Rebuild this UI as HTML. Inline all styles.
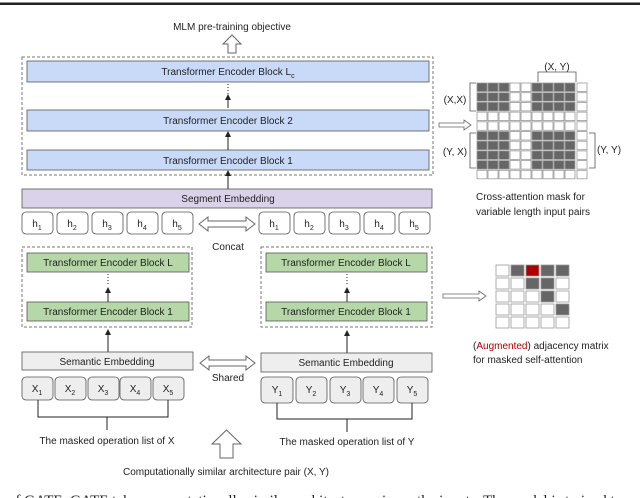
<!DOCTYPE html>
<html><head><meta charset="utf-8"><style>
html,body{margin:0;padding:0;background:#fff;width:640px;height:498px;overflow:hidden}
svg text{font-family:"Liberation Sans",sans-serif;fill:#222}
</style></head><body>
<svg width="640" height="498" viewBox="0 0 640 498" xmlns="http://www.w3.org/2000/svg">
<defs>
<marker id="ah" markerWidth="6" markerHeight="6" refX="3" refY="3" orient="auto"><path d="M0,0 L6,3 L0,6 z" fill="#222"/></marker>
<g id="rowD">
<rect x="477" y="0" width="10" height="8.5" fill="#666"/><rect x="488" y="0" width="10" height="8.5" fill="#666"/><rect x="499" y="0" width="10" height="8.5" fill="#666"/><rect x="510" y="0" width="10" height="8.5" fill="#fff"/><rect x="521" y="0" width="10" height="8.5" fill="#fff"/><rect x="532" y="0" width="10" height="8.5" fill="#666"/><rect x="543" y="0" width="10" height="8.5" fill="#666"/><rect x="554" y="0" width="10" height="8.5" fill="#666"/><rect x="565" y="0" width="10" height="8.5" fill="#666"/><rect x="577" y="0" width="10" height="8.5" fill="#fff"/>
</g>
<g id="rowW">
<rect x="477" y="0" width="10" height="8.5" fill="#fff"/><rect x="488" y="0" width="10" height="8.5" fill="#fff"/><rect x="499" y="0" width="10" height="8.5" fill="#fff"/><rect x="510" y="0" width="10" height="8.5" fill="#fff"/><rect x="521" y="0" width="10" height="8.5" fill="#fff"/><rect x="532" y="0" width="10" height="8.5" fill="#fff"/><rect x="543" y="0" width="10" height="8.5" fill="#fff"/><rect x="554" y="0" width="10" height="8.5" fill="#fff"/><rect x="565" y="0" width="10" height="8.5" fill="#fff"/><rect x="577" y="0" width="10" height="8.5" fill="#fff"/>
</g>
</defs>
<rect x="0" y="2.5" width="640" height="2.5" fill="#222"/>

<text x="232" y="30" font-size="10" text-anchor="middle">MLM pre-training objective</text>
<path d="M228,53 L228,44 L223,44 L232,35 L241,44 L236,44 L236,53 Z" fill="#fff" stroke="#666" stroke-width="1"/>

<rect x="22" y="57" width="411" height="118" fill="none" stroke="#777" stroke-dasharray="3,2"/>
<rect x="27" y="61" width="402" height="21" fill="#c9daf8" stroke="#555" stroke-width="0.8"/>
<text x="228" y="75" font-size="10" text-anchor="middle">Transformer Encoder Block L<tspan font-size="7" dy="3">c</tspan></text>
<line x1="228" y1="84" x2="228" y2="94" stroke="#222" stroke-dasharray="1,2"/>
<line x1="228" y1="108" x2="228" y2="97" stroke="#222" marker-end="url(#ah)"/>
<rect x="27" y="110" width="402" height="21" fill="#c9daf8" stroke="#555" stroke-width="0.8"/>
<text x="228" y="124" font-size="10" text-anchor="middle">Transformer Encoder Block 2</text>
<line x1="228" y1="150" x2="228" y2="134" stroke="#222" marker-end="url(#ah)"/>
<rect x="27" y="150" width="402" height="20" fill="#c9daf8" stroke="#555" stroke-width="0.8"/>
<text x="228" y="164" font-size="10" text-anchor="middle">Transformer Encoder Block 1</text>
<line x1="228" y1="189" x2="228" y2="173" stroke="#222" marker-end="url(#ah)"/>

<rect x="22" y="189" width="410" height="19" fill="#d9d2e9" stroke="#555" stroke-width="0.8"/>
<text x="228" y="202" font-size="10" text-anchor="middle">Segment Embedding</text>

<g stroke="#555" stroke-width="0.8" fill="#fff">
<rect x="22" y="212" width="31" height="22" rx="4"/><rect x="57" y="212" width="31" height="22" rx="4"/><rect x="92" y="212" width="31" height="22" rx="4"/><rect x="127" y="212" width="31" height="22" rx="4"/><rect x="162" y="212" width="31" height="22" rx="4"/>
<rect x="259" y="212" width="31" height="22" rx="4"/><rect x="294" y="212" width="31" height="22" rx="4"/><rect x="329" y="212" width="31" height="22" rx="4"/><rect x="364" y="212" width="31" height="22" rx="4"/><rect x="399" y="212" width="31" height="22" rx="4"/>
</g>
<g font-size="10" text-anchor="middle">
<text x="37" y="227">h<tspan font-size="7" dy="3">1</tspan></text><text x="72" y="227">h<tspan font-size="7" dy="3">2</tspan></text><text x="107" y="227">h<tspan font-size="7" dy="3">3</tspan></text><text x="142" y="227">h<tspan font-size="7" dy="3">4</tspan></text><text x="177" y="227">h<tspan font-size="7" dy="3">5</tspan></text>
<text x="274" y="227">h<tspan font-size="7" dy="3">1</tspan></text><text x="309" y="227">h<tspan font-size="7" dy="3">2</tspan></text><text x="344" y="227">h<tspan font-size="7" dy="3">3</tspan></text><text x="379" y="227">h<tspan font-size="7" dy="3">4</tspan></text><text x="414" y="227">h<tspan font-size="7" dy="3">5</tspan></text>
</g>
<path d="M199,224 L208,217 L208,221 L246,221 L246,217 L255,224 L246,231 L246,227 L208,227 L208,231 Z" fill="#fff" stroke="#666"/>
<text x="228" y="250" font-size="10" text-anchor="middle">Concat</text>

<rect x="22" y="247" width="170" height="80" fill="none" stroke="#777" stroke-dasharray="3,2"/>
<rect x="261" y="247" width="171" height="80" fill="none" stroke="#777" stroke-dasharray="3,2"/>
<rect x="27" y="253" width="162" height="19" fill="#b6d7a8" stroke="#555" stroke-width="0.8"/>
<rect x="266" y="253" width="161" height="19" fill="#b6d7a8" stroke="#555" stroke-width="0.8"/>
<text x="108" y="266" font-size="10" text-anchor="middle">Transformer Encoder Block L</text>
<text x="346" y="266" font-size="10" text-anchor="middle">Transformer Encoder Block L</text>
<line x1="108" y1="274" x2="108" y2="286" stroke="#222" stroke-dasharray="1,2"/>
<line x1="108" y1="302" x2="108" y2="290" stroke="#222" marker-end="url(#ah)"/>
<line x1="347" y1="274" x2="347" y2="286" stroke="#222" stroke-dasharray="1,2"/>
<line x1="347" y1="302" x2="347" y2="290" stroke="#222" marker-end="url(#ah)"/>
<rect x="27" y="302" width="162" height="19" fill="#b6d7a8" stroke="#555" stroke-width="0.8"/>
<rect x="266" y="302" width="161" height="19" fill="#b6d7a8" stroke="#555" stroke-width="0.8"/>
<text x="108" y="315" font-size="10" text-anchor="middle">Transformer Encoder Block 1</text>
<text x="346" y="315" font-size="10" text-anchor="middle">Transformer Encoder Block 1</text>
<line x1="108" y1="352" x2="108" y2="332" stroke="#222" marker-end="url(#ah)"/>
<line x1="347" y1="353" x2="347" y2="333" stroke="#222" marker-end="url(#ah)"/>

<rect x="22" y="352" width="171" height="18" fill="#eeeeee" stroke="#555" stroke-width="0.8"/>
<rect x="261" y="353" width="171" height="19" fill="#eeeeee" stroke="#555" stroke-width="0.8"/>
<text x="107" y="365" font-size="10" text-anchor="middle">Semantic Embedding</text>
<text x="346" y="366" font-size="10" text-anchor="middle">Semantic Embedding</text>
<path d="M200,363 L209,356 L209,360 L246,360 L246,356 L255,363 L246,370 L246,366 L209,366 L209,370 Z" fill="#fff" stroke="#666"/>
<text x="228" y="381" font-size="10" text-anchor="middle">Shared</text>

<g stroke="#555" stroke-width="0.8" fill="#eeeeee">
<rect x="22" y="377" width="31" height="23" rx="4"/><rect x="55" y="377" width="31" height="23" rx="4"/><rect x="88" y="377" width="31" height="23" rx="4"/><rect x="120" y="377" width="31" height="23" rx="4"/><rect x="153" y="377" width="31" height="23" rx="4"/>
<rect x="261" y="377" width="32" height="26" rx="4"/><rect x="296" y="377" width="31" height="26" rx="4"/><rect x="330" y="377" width="31" height="26" rx="4"/><rect x="363" y="377" width="31" height="26" rx="4"/><rect x="397" y="377" width="31" height="26" rx="4"/>
</g>
<g font-size="10" text-anchor="middle">
<text x="37" y="392">X<tspan font-size="7" dy="3">1</tspan></text><text x="70" y="392">X<tspan font-size="7" dy="3">2</tspan></text><text x="103" y="392">X<tspan font-size="7" dy="3">3</tspan></text><text x="135" y="392">X<tspan font-size="7" dy="3">4</tspan></text><text x="168" y="392">X<tspan font-size="7" dy="3">5</tspan></text>
<text x="277" y="393">Y<tspan font-size="7" dy="3">1</tspan></text><text x="311" y="393">Y<tspan font-size="7" dy="3">2</tspan></text><text x="345" y="393">Y<tspan font-size="7" dy="3">3</tspan></text><text x="378" y="393">Y<tspan font-size="7" dy="3">4</tspan></text><text x="412" y="393">Y<tspan font-size="7" dy="3">5</tspan></text>
</g>
<path d="M38,400 V417 H168 V400 M107,417 V430" fill="none" stroke="#222"/>
<path d="M277,403 V419 H412 V403 M347,419 V432" fill="none" stroke="#222"/>
<text x="107" y="444" font-size="10" text-anchor="middle">The masked operation list of X</text>
<text x="347" y="445" font-size="10" text-anchor="middle">The masked operation list of Y</text>
<path d="M220,458 L220,444 L212,444 L226.5,430 L241,444 L233,444 L233,458 Z" fill="#fff" stroke="#666"/>
<text x="226" y="475" font-size="10" text-anchor="middle">Computationally similar architecture pair (X, Y)</text>
<text x="8" y="505" font-size="15" style="font-family:'Liberation Serif',serif">of GATE. GATE takes computationally similar architecture pairs as the inputs. The model is trained to predi</text>

<path d="M439,123 L464,123 L464,120 L471,125 L464,130 L464,127 L439,127 Z" fill="#fff" stroke="#666" stroke-width="0.8"/>
<g stroke="#999" stroke-width="0.8">
<use href="#rowD" y="83"/><use href="#rowD" y="92.7"/><use href="#rowD" y="102.4"/><use href="#rowW" y="112.1"/><use href="#rowW" y="121.8"/>
<use href="#rowD" y="131.5"/><use href="#rowD" y="141.2"/><use href="#rowD" y="150.9"/><use href="#rowD" y="160.6"/><use href="#rowW" y="170.3"/>
</g>
<path d="M538,82 V72 H576 V82" fill="none" stroke="#555" stroke-width="0.8"/>
<text x="557" y="70" font-size="10" text-anchor="middle">(X, Y)</text>
<path d="M476,83 H470 V111 H476" fill="none" stroke="#555" stroke-width="0.8"/>
<text x="455" y="103" font-size="10" text-anchor="middle">(X,X)</text>
<path d="M476,133 H470 V168 H476" fill="none" stroke="#555" stroke-width="0.8"/>
<text x="455" y="155" font-size="10" text-anchor="middle">(Y, X)</text>
<path d="M589,133 H595 V168 H589" fill="none" stroke="#555" stroke-width="0.8"/>
<text x="609" y="153" font-size="10" text-anchor="middle">(Y, Y)</text>
<text x="476" y="200" font-size="10">Cross-attention mask for</text>
<text x="476" y="215" font-size="10">variable length input pairs</text>

<path d="M443,294 L479,294 L479,291 L486,296 L479,301 L479,298 L443,298 Z" fill="#fff" stroke="#666" stroke-width="0.8"/>
<g stroke="#999" stroke-width="0.8">
<rect x="496" y="265" width="13" height="11" fill="#fff"/><rect x="511" y="265" width="13" height="11" fill="#666"/><rect x="526" y="265" width="13" height="11" fill="#a00"/><rect x="541" y="265" width="13" height="11" fill="#666"/><rect x="556" y="265" width="13" height="11" fill="#666"/>
<rect x="496" y="278" width="13" height="11" fill="#fff"/><rect x="511" y="278" width="13" height="11" fill="#fff"/><rect x="526" y="278" width="13" height="11" fill="#666"/><rect x="541" y="278" width="13" height="11" fill="#666"/><rect x="556" y="278" width="13" height="11" fill="#fff"/>
<rect x="496" y="291" width="13" height="11" fill="#fff"/><rect x="511" y="291" width="13" height="11" fill="#fff"/><rect x="526" y="291" width="13" height="11" fill="#fff"/><rect x="541" y="291" width="13" height="11" fill="#666"/><rect x="556" y="291" width="13" height="11" fill="#fff"/>
<rect x="496" y="304" width="13" height="11" fill="#fff"/><rect x="511" y="304" width="13" height="11" fill="#fff"/><rect x="526" y="304" width="13" height="11" fill="#fff"/><rect x="541" y="304" width="13" height="11" fill="#fff"/><rect x="556" y="304" width="13" height="11" fill="#666"/>
<rect x="496" y="317" width="13" height="11" fill="#fff"/><rect x="511" y="317" width="13" height="11" fill="#fff"/><rect x="526" y="317" width="13" height="11" fill="#fff"/><rect x="541" y="317" width="13" height="11" fill="#fff"/><rect x="556" y="317" width="13" height="11" fill="#fff"/>
</g>
<text x="473" y="349" font-size="10">(<tspan fill="#a00">Augmented</tspan>) adjacency matrix</text>
<text x="473" y="363" font-size="10">for masked self-attention</text>
</svg>
</body></html>
